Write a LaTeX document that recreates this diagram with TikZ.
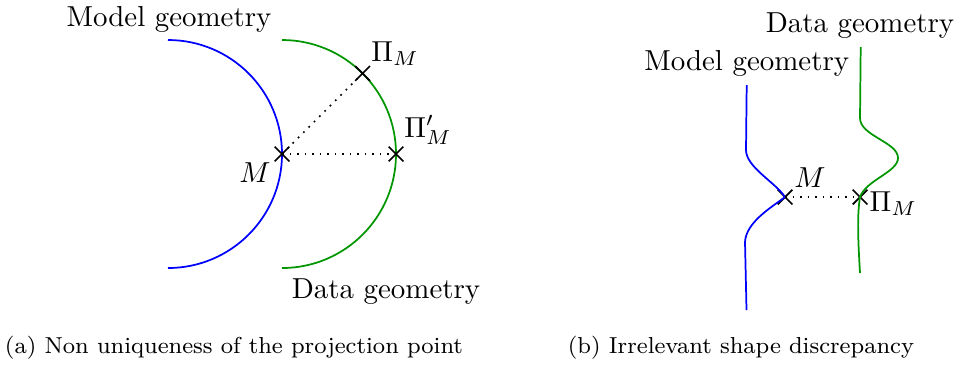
\documentclass[tikz,border=0pt]{standalone}
\usetikzlibrary{shapes.misc, positioning}
\definecolor{modelcolor}{RGB}{0,0,255}
\definecolor{datacolor}{RGB}{0,150,0}
\tikzset{
  model/.style   = {draw=modelcolor, semithick},
  data/.style    = {draw=datacolor, semithick},
  crossmk/.style = {cross out, draw=black, semithick, minimum size=4.5pt, inner sep=0pt},
  proj/.style    = {dotted, semithick},
  lbl/.style     = {anchor=base, inner sep=0pt},
  capt/.style    = {anchor=base, inner sep=0pt, font=\footnotesize},
}
\begin{document}
\begin{tikzpicture}[x=0.346pt, y=-0.346pt]
  \useasboundingbox (0,0) rectangle (958,365);
  % (a) two half circles
  \draw[model] (168,40) arc[start angle=-90, end angle=90, radius=114];
  \draw[data] (282,40) arc[start angle=-90, end angle=90, radius=114];
  \node[crossmk] (M) at (282,154) {};
  \node[crossmk] (PiM) at (362.6,73.4) {};
  \node[crossmk] (PiMp) at (396,154) {};
  \draw[proj] (M.center) -- (PiM.center);
  \draw[proj] (M.center) -- (PiMp.center);
  \node[lbl] (modelA) at (169,26) {Model geometry};
  \node[lbl] (dataA) at (386,298) {Data geometry};
  \node[lbl] (lblM) at (255,182) {$M$};
  \node[lbl] (lblPiM) at (395,61) {$\Pi_M$};
  \node[lbl] (lblPiMp) at (428,137) {$\Pi'_M$};
  \node[capt] (captA) at (234,353) {(a) Non uniqueness of the projection point};
  % (b) two bumps
  \node[crossmk] (Mb) at (785,197) {};
  \node[crossmk] (PiMb) at (860,197) {};
  \draw[model] (746.7,85) -- (746,150)
    .. controls (746,167) and (775,182) .. (Mb.center)
    .. controls (772,207) and (746,222) .. (745,242) -- (746.5,310);
  \draw[data] (860.7,47) -- (860,118)
    .. controls (860,136) and (898,142) .. (898,158)
    .. controls (898,172) and (866,180) .. (PiMb.center)
    .. controls (857,215) and (858,240) .. (860,273);
  \draw[proj] (Mb.center) -- (PiMb.center);
  \node[lbl] (dataB) at (860,32) {Data geometry};
  \node[lbl] (modelB) at (746.7,70) {Model geometry};
  \node[lbl] (lblMb) at (810,187) {$M$};
  \node[lbl, anchor=base west] (lblPiMb) at (869,211) {$\Pi_M$};
  \node[capt] (captB) at (741,353) {(b) Irrelevant shape discrepancy};
\end{tikzpicture}
\end{document}
